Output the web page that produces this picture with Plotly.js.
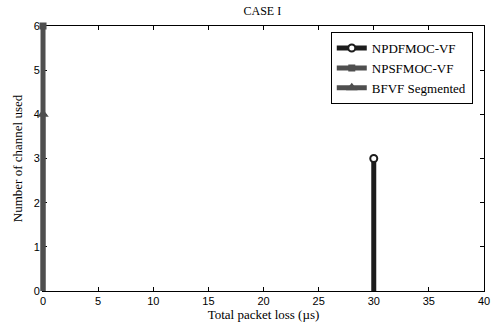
<!DOCTYPE html>
<html><head><meta charset="utf-8">
<script src="https://cdn.plot.ly/plotly-3.0.1.min.js"></script>
<style>html,body{margin:0;padding:0;background:#fff}</style>
</head><body><div id="chart" style="width:495px;height:329px"></div>
<script>
const seriesNames = ["NPDFMOC-VF", "NPSFMOC-VF", "BFVF Segmented"];
const packetLoss = [30, 0, 0];
const channelsUsed = [3, 6, 4];
const colors = ["#1c1c1c", "#4f4f4f", "#4f4f4f"];
const symbols = ["circle", "square", "triangle-up"];
const xTicks = [0, 5, 10, 15, 20, 25, 30, 35, 40];
const yTicks = [0, 1, 2, 3, 4, 5, 6];

const traces = seriesNames.map((name, i) => ({
  type: "scatter",
  mode: "lines+markers",
  name: name,
  xaxis: "x2", yaxis: "y",
  x: [packetLoss[i]],
  y: [channelsUsed[i]],
  line: {color: colors[i], width: 5},
  marker: {
    symbol: symbols[i],
    size: i === 0 ? 7 : (i === 1 ? 7 : 10),
    color: i === 0 ? "#ffffff" : colors[i],
    line: {color: colors[i], width: i === 0 ? 2 : 0}
  },
  error_y: {
    type: "data", symmetric: false,
    array: [0], arrayminus: [channelsUsed[i]],
    color: colors[i], thickness: 5, width: 0
  },
  cliponaxis: false
}));

// invisible helper so the main x scale is set up
traces.push({type: "scatter", mode: "none", x: [0, 40], y: [0, 0], xaxis: "x", yaxis: "y", showlegend: false, hoverinfo: "skip"});

const W = 495, ml = 32, mr = 11;
const plotW = W - ml - mr;
const pxPerUnit = (plotW - 11) / 40;
const leftPad = 1; // data units of extra room for the x=0 stems
const d0 = (leftPad * pxPerUnit) / plotW;

const layout = {
  width: W, height: 329,
  margin: {l: ml, r: mr, t: 26, b: 38},
  paper_bgcolor: "#fff", plot_bgcolor: "rgba(0,0,0,0)",
  title: {text: "CASE I", font: {family: "Liberation Serif", size: 12, color: "#000"}, x: 0.53, xanchor: "center", y: 0.968, yanchor: "middle"},
  showlegend: true,
  legend: {
    x: 0.661, y: 0.977, xanchor: "left", yanchor: "top",
    bgcolor: "#fff", bordercolor: "#000", borderwidth: 1,
    font: {family: "Liberation Serif", size: 13, color: "#000"},
    itemwidth: 30, tracegroupgap: 0
  },
  xaxis: {
    domain: [d0, 1],
    range: [0, 40], tickvals: xTicks, ticktext: xTicks.map(String),
    ticks: "inside", ticklen: 4, tickcolor: "#000", showline: true, linecolor: "#000", linewidth: 1,
    mirror: "ticks", showgrid: false, zeroline: false,
    tickfont: {family: "Liberation Sans", size: 11, color: "#000"},
    title: {text: "Total packet loss (µs)", font: {family: "Liberation Serif", size: 13, color: "#000"}, standoff: 2}
  },
  xaxis2: {
    domain: [0, 1], anchor: "y",
    range: [-leftPad, 40], visible: false, showgrid: false, zeroline: false
  },
  yaxis: {
    anchor: "x",
    range: [0, 6], tickvals: yTicks, ticktext: yTicks.map(String),
    ticks: "inside", ticklen: 4, tickcolor: "#000", showline: true, linecolor: "#000", linewidth: 1,
    mirror: "ticks", showgrid: false, zeroline: false,
    tickfont: {family: "Liberation Sans", size: 11, color: "#000"},
    title: {text: "Number of channel used", font: {family: "Liberation Serif", size: 13, color: "#000"}, standoff: 8}
  }
};
Plotly.newPlot("chart", traces, layout, {displayModeBar: false, staticPlot: true});
</script></body></html>
